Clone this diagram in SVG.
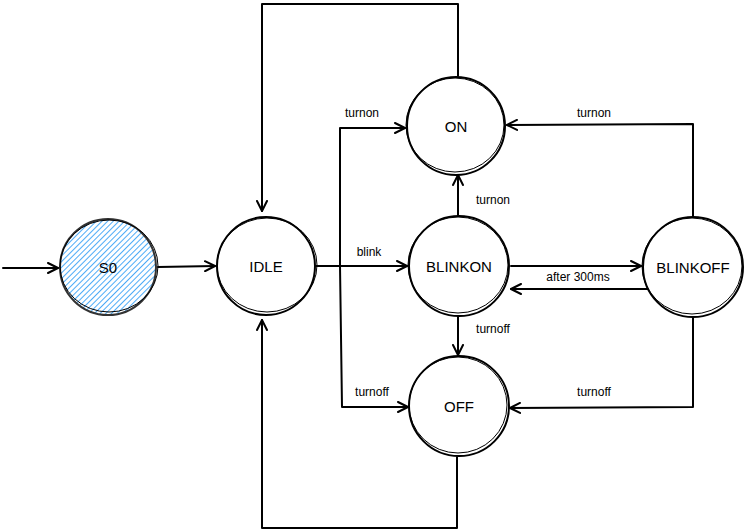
<svg xmlns="http://www.w3.org/2000/svg" width="744" height="532" viewBox="0 0 744 532">
<defs>
<marker id="arr" viewBox="0 0 12 12" refX="11" refY="6" markerWidth="12" markerHeight="12" markerUnits="userSpaceOnUse" orient="auto">
<path d="M1,1 L11,6 L1,11" fill="none" stroke="#000" stroke-width="2" stroke-linecap="round" stroke-linejoin="round"/>
</marker>
<pattern id="hatch" width="4" height="4" patternUnits="userSpaceOnUse" patternTransform="rotate(45)">
<rect width="4" height="4" fill="#ffffff"/>
<line x1="0" y1="0" x2="0" y2="4" stroke="#4dabf7" stroke-width="2"/>
</pattern>
</defs>
<style>
.node{fill:#fff;stroke:#000;stroke-width:2}
.node2{fill:none;stroke:#000;stroke-width:1}
.lbl{font-family:"Liberation Sans",Arial,sans-serif;font-size:15px;fill:#000;text-anchor:middle;dominant-baseline:central}
.elbl{font-family:"Liberation Sans",Arial,sans-serif;font-size:12px;fill:#000;text-anchor:middle;dominant-baseline:central}
.edge{fill:none;stroke:#000;stroke-width:2;stroke-linecap:round;stroke-linejoin:round}
</style>
<rect width="744" height="532" fill="#fff"/>
<g id="connectors">
<path class="edge" d="M3,268 L58,268" marker-end="url(#arr)"/>
<path class="edge" d="M158,267 L215,266" marker-end="url(#arr)"/>
<path class="edge" d="M316,266 L407,266" marker-end="url(#arr)"/>
<path class="edge" d="M340,266 L340,128 L405,128" marker-end="url(#arr)"/>
<path class="edge" d="M340,266 L342,407 L408,407" marker-end="url(#arr)"/>
<path class="edge" d="M458,76 L458,4 L262,4 L262,211" marker-end="url(#arr)"/>
<path class="edge" d="M457,457 L457,528 L262,528 L262,320" marker-end="url(#arr)"/>
<path class="edge" d="M458,217 L458,175" marker-end="url(#arr)"/>
<path class="edge" d="M458,314 L458,355" marker-end="url(#arr)"/>
<path class="edge" d="M511,266 L641,266" marker-end="url(#arr)"/>
<path class="edge" d="M666,289 L511,289" marker-end="url(#arr)"/>
<path class="edge" d="M693,216 L693,124 L507,125" marker-end="url(#arr)"/>
<path class="edge" d="M693,317 L693,407 L510,408" marker-end="url(#arr)"/>
<text class="elbl" x="369" y="252">blink</text>
<text class="elbl" x="362" y="113">turnon</text>
<text class="elbl" x="372" y="392">turnoff</text>
<text class="elbl" x="493" y="200">turnon</text>
<text class="elbl" x="493" y="329">turnoff</text>
<text class="elbl" x="578" y="277">after 300ms</text>
<text class="elbl" x="594" y="113">turnon</text>
<text class="elbl" x="594" y="392">turnoff</text>
</g>
<g id="S0">
<circle cx="108" cy="267" r="48" fill="url(#hatch)" stroke="#333" stroke-width="2"/>
<ellipse cx="109" cy="266" rx="49" ry="46" class="node2" stroke="#333"/>
<text class="lbl" x="108" y="267">S0</text>
</g>
<g id="IDLE">
<circle class="node" cx="266" cy="266" r="49"/>
<ellipse class="node2" cx="267" cy="265" rx="50" ry="47"/>
<text class="lbl" x="266" y="266">IDLE</text>
</g>
<g id="ON">
<circle class="node" cx="456" cy="126" r="49"/>
<ellipse class="node2" cx="455" cy="125" rx="49" ry="47"/>
<text class="lbl" x="456" y="126">ON</text>
</g>
<g id="BLINKON">
<circle class="node" cx="459" cy="266" r="50"/>
<ellipse class="node2" cx="458" cy="265" rx="50" ry="48"/>
<text class="lbl" x="459" y="266">BLINKON</text>
</g>
<g id="BLINKOFF">
<circle class="node" cx="693" cy="267" r="50"/>
<ellipse class="node2" cx="692" cy="266" rx="50" ry="48"/>
<text class="lbl" x="693" y="267">BLINKOFF</text>
</g>
<g id="OFF">
<circle class="node" cx="459" cy="406" r="50"/>
<ellipse class="node2" cx="458" cy="405" rx="49" ry="48"/>
<text class="lbl" x="459" y="406">OFF</text>
</g>
</svg>
